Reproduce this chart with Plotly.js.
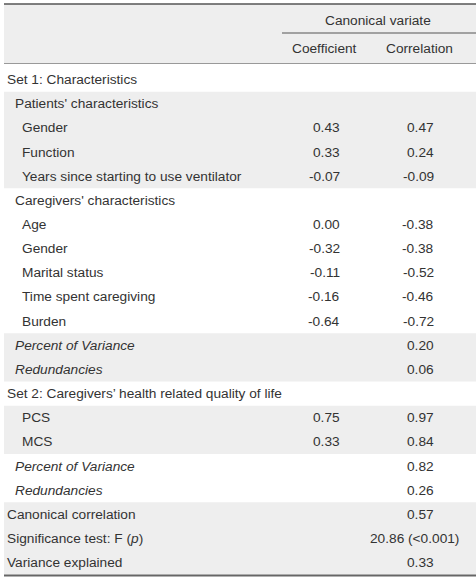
<!DOCTYPE html>
<html>
<head>
<meta charset="utf-8">
<script src="https://cdn.plot.ly/plotly-3.0.1.min.js"></script>
<style>html,body{margin:0;padding:0;background:#fff;}#chart{width:476px;height:584px;}</style>
</head>
<body>
<div id="chart"></div>
<script>
// ---- data ----
const rowLabels = [
  "Set 1: Characteristics",
  "Patients' characteristics",
  "Gender",
  "Function",
  "Years since starting to use ventilator",
  "Caregivers' characteristics",
  "Age",
  "Gender",
  "Marital status",
  "Time spent caregiving",
  "Burden",
  "Percent of Variance",
  "Redundancies",
  "Set 2: Caregivers\u2019 health related quality of life",
  "PCS",
  "MCS",
  "Percent of Variance",
  "Redundancies",
  "Canonical correlation",
  "Significance test: F (<i>p</i>)",
  "Variance explained"
];
const rowLevels = [0,1,2,2,2,1,2,2,2,2,2,1,1,0,2,2,1,1,0,0,0];
const italicRows = [11,12,16,17];
const coefficient = [null,null,0.43,0.33,-0.07,null,0.00,-0.32,-0.11,-0.16,-0.64,null,null,null,0.75,0.33,null,null,null,null,null];
const correlation = [null,null,0.47,0.24,-0.09,null,-0.38,-0.38,-0.52,-0.46,-0.72,0.20,0.06,null,0.97,0.84,0.82,0.26,0.57,null,0.33];
const sigRow = 19;
const sigF = 20.86;
const sigP = "&lt;0.001";
const groupHeader = "Canonical variate";
const columnHeaders = ["Coefficient", "Correlation"];
const shadedBlocks = [[1,4],[11,12],[14,15],[18,20]];

// ---- layout helpers (pixel geometry -> row units) ----
const ROW0 = 79.6, PITCH = 24.15;
const py = p => (p - ROW0) / PITCH;
const PAD = 2;
const indentX = [7 - PAD, 15 - PAD, 22 - PAD];
const coefRight = 340 + PAD, corrRight = 434 + PAD;
const textColor = "#333";
const fontFam = "Liberation Sans, Arial, sans-serif";
const fsize = 13.7;

const annotations = [];
function addText(x, y, text, anchor) {
  annotations.push({x: x, y: y, xref: "x", yref: "y", text: text, showarrow: false,
    xanchor: anchor, yanchor: "middle", font: {family: fontFam, size: fsize, color: textColor}});
}
rowLabels.forEach((lab, i) => {
  const t = italicRows.includes(i) ? "<i>" + lab + "</i>" : lab;
  addText(indentX[rowLevels[i]], i, t, "left");
  if (coefficient[i] !== null) addText(coefRight, i, coefficient[i].toFixed(2), "right");
  if (correlation[i] !== null) addText(corrRight, i, correlation[i].toFixed(2), "right");
});
addText(414.5, sigRow, sigF.toFixed(2) + " (" + sigP + ")", "center");
addText(377.5, py(20), groupHeader, "center");
addText(324, py(48), columnHeaders[0], "center");
addText(419, py(48), columnHeaders[1], "center");

const shapes = [];
const fillCol = "#eeeeee";
shapes.push({type: "rect", xref: "x", yref: "y", x0: 4, x1: 476, y0: py(4), y1: py(63.5), fillcolor: fillCol, line: {width: 0}, layer: "below"});
shadedBlocks.forEach(b => {
  shapes.push({type: "rect", xref: "x", yref: "y", x0: 4, x1: 476, y0: b[0] - 0.5, y1: b[1] + 0.5, fillcolor: fillCol, line: {width: 0}, layer: "below"});
});
function hline(x0, x1, y, w, c) {
  shapes.push({type: "line", xref: "x", yref: "y", x0: x0, x1: x1, y0: y, y1: y, line: {color: c, width: w}});
}
hline(4, 476, py(4), 1.5, "#555");
hline(282, 476, py(33), 1, "#555");
hline(4, 476, py(63.5), 1, "#999");
hline(4, 476, py(575.5), 2, "#666");

const layout = {
  width: 476, height: 584,
  margin: {l: 0, r: 0, t: 0, b: 0},
  paper_bgcolor: "#fff", plot_bgcolor: "#fff",
  showlegend: false,
  xaxis: {range: [0, 476], visible: false, fixedrange: true},
  yaxis: {range: [py(584), py(0)], visible: false, fixedrange: true},
  annotations: annotations,
  shapes: shapes
};
Plotly.newPlot("chart", [{x: [], y: [], type: "scatter", mode: "markers", hoverinfo: "skip"}], layout, {displayModeBar: false, staticPlot: true});
</script>
</body>
</html>
